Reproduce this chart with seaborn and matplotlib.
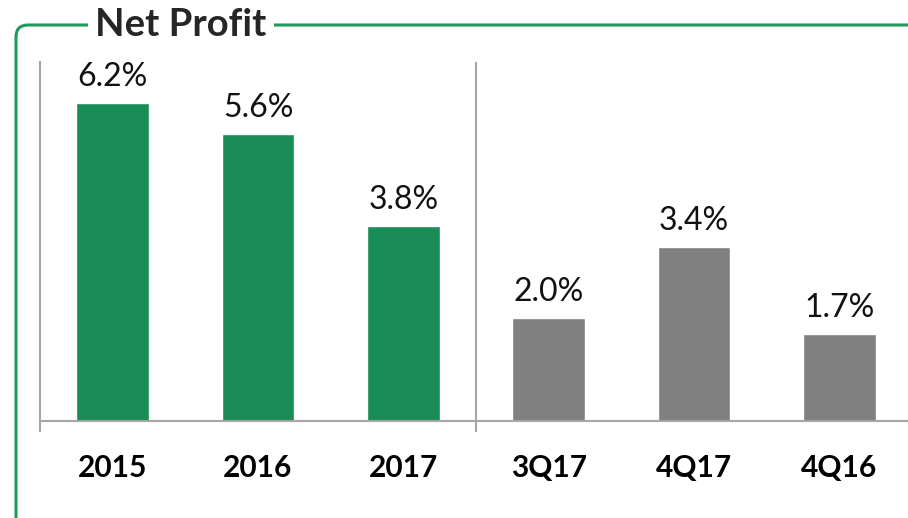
import matplotlib
matplotlib.use("Agg")
import matplotlib.pyplot as plt
from matplotlib.patches import FancyBboxPatch
import seaborn as sns
import pandas as pd

categories = ["2015", "2016", "2017", "3Q17", "4Q17", "4Q16"]
values = [6.2, 5.6, 3.8, 2.0, 3.4, 1.7]
bar_colors = ["#1A8C55", "#1A8C55", "#1A8C55", "#808080", "#808080", "#808080"]
title = "Net Profit"

sns.set_theme(style="white")
plt.rcParams["font.family"] = ["Lato", "DejaVu Sans"]

df = pd.DataFrame({"period": categories, "value": values})

fig = plt.figure(figsize=(9.08, 5.18), dpi=100)
ax = fig.add_axes([40 / 908, 97 / 518, 872 / 908, 359 / 518])

sns.barplot(data=df, x="period", y="value", hue="period", palette=bar_colors,
            legend=False, width=0.5, ax=ax, saturation=1)

for c in ax.containers:
    ax.bar_label(c, labels=[f"{v:.1f}%" for v in c.datavalues],
                 padding=8, fontsize=23, color="#111111")

ax.set_xlim(-0.5, 5.5)
ax.set_ylim(0, 7)
ax.set_xlabel("")
ax.set_ylabel("")
ax.set_yticks([])

grey = "#A6A6A6"
for s in ["top", "right"]:
    ax.spines[s].set_visible(False)
for s in ["left", "bottom"]:
    ax.spines[s].set_color(grey)
    ax.spines[s].set_linewidth(1.5)

ax.axvline(2.5, color=grey, lw=1.5)
ax.set_xticks([-0.5, 2.5, 5.5], minor=True)
ax.tick_params(axis="x", which="minor", bottom=True, direction="out",
               length=8, width=1.5, color=grey)
ax.tick_params(axis="x", which="major", bottom=True, length=0, pad=24)
for t in ax.get_xticklabels():
    t.set_fontsize(21.5)
    t.set_fontweight("bold")
    t.set_color("#000000")

# green frame around the panel
frame = FancyBboxPatch((0.16, -0.3), 9.5, 4.93 + 0.3,
                       boxstyle="round,pad=0,rounding_size=0.12",
                       transform=fig.dpi_scale_trans, fill=False,
                       edgecolor="#1F9A5C", linewidth=2.2, clip_on=False)
fig.add_artist(frame)

fig.text(181 / 908, 493 / 518, title, ha="center", va="center", fontsize=27.5,
         fontweight="bold", color="#262626",
         bbox=dict(facecolor="white", edgecolor="none", pad=5))

fig.savefig("out.png", dpi=100)
